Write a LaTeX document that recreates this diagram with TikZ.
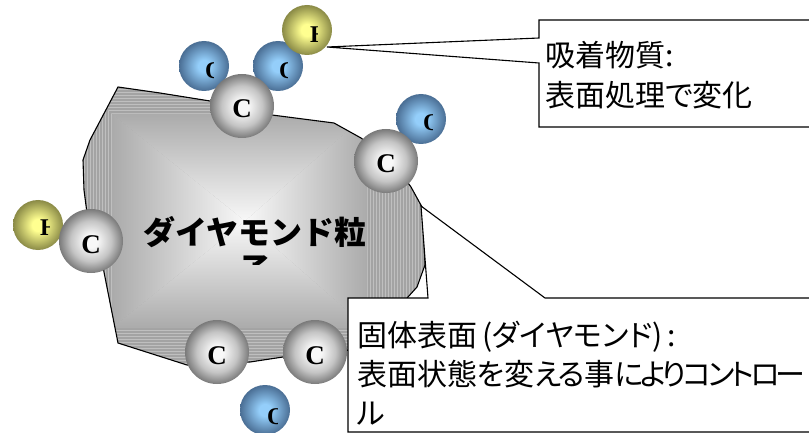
\documentclass[tikz,border=0pt]{standalone}
\usepackage{fontspec}
\setmainfont{Liberation Serif}
\newfontfamily\jpfont[Script=CJK, CharacterWidth=AlternateProportional]{Noto Sans CJK JP}
\newfontfamily\jpwide{Noto Sans CJK JP}
\newcommand\tightkana[1]{{\addfontfeature{LetterSpace=-12}#1}}

\definecolor{grayhi}{HTML}{F8F8F8}
\definecolor{graymid}{HTML}{C4C4C4}
\definecolor{graylo}{HTML}{7A7A7A}
\definecolor{bluehi}{HTML}{94CEFA}
\definecolor{bluelo}{HTML}{4A6E94}
\definecolor{yellowhi}{HTML}{FFFF90}
\definecolor{yellowlo}{HTML}{8A8A46}
\pgfdeclareradialshading{cball}{\pgfpoint{0bp}{0bp}}{color(0bp)=(grayhi); color(5bp)=(grayhi); color(16bp)=(graymid); color(25bp)=(graylo); color(50bp)=(graylo)}
\pgfdeclareradialshading{oball}{\pgfpoint{0bp}{0bp}}{color(0bp)=(bluehi); color(6bp)=(bluehi); color(25bp)=(bluelo); color(50bp)=(bluelo)}
\pgfdeclareradialshading{hball}{\pgfpoint{0bp}{0bp}}{color(0bp)=(yellowhi); color(6bp)=(yellowhi); color(25bp)=(yellowlo); color(50bp)=(yellowlo)}

\begin{document}
\begin{tikzpicture}[x=1pt, y=-1pt,
    catom/.style = {circle, minimum size=64pt, inner sep=0pt, shade, shading=cball, text height=24pt, text depth=0pt, font=\bfseries\fontsize{27}{27}\selectfont},
    oatom/.style = {circle, minimum size=50pt, inner sep=0pt, shade, shading=oball},
    hatom/.style = {circle, minimum size=50pt, inner sep=0pt, shade, shading=hball},
    cutletter/.style = {anchor=west, inner sep=0pt, font=\bfseries\fontsize{24}{24}\selectfont},
    callout/.style = {draw, fill=white, line width=1.1pt},
    note/.style = {anchor=north west, inner sep=0pt, align=left}]
  \useasboundingbox (0,0) rectangle (809,433);
  \clip (0,0) rectangle (809,433);

  % diamond grain
  \path[save path=\grainoutline] (118,87) -- (160,93) -- (210,101) -- (272,115) -- (334,123) -- (361,138)
    -- (395,165) -- (411,187) -- (422,207) -- (424,240) -- (425,265) -- (417,287) -- (408,297)
    -- (380,330) -- (350,350) -- (283,357) -- (250,362) -- (187,365) -- (118,343) -- (103,267)
    -- (87,213) -- (84,190) -- (83,160) -- (90,140) -- cycle;
  \begin{scope}
    \clip[use path=\grainoutline];
    \fill[gray!72] (78,84) rectangle (428,370);
    \foreach \y in {84,87,...,370}
      \draw[gray!50, line width=1pt] (78,\y) -- (428,\y);
    \begin{scope}
      \clip (78,84) -- (112,114) -- (112,328) -- (78,370) -- cycle;
      \fill[gray!72] (78,84) rectangle (112,370);
      \foreach \x in {78,81,...,112}
        \draw[gray!50, line width=1pt] (\x,84) -- (\x,370);
    \end{scope}
    \begin{scope}
      \clip (428,84) -- (367,114) -- (367,328) -- (428,370) -- cycle;
      \fill[gray!72] (367,84) rectangle (428,370);
      \foreach \x in {367,370,...,428}
        \draw[gray!50, line width=1pt] (\x,84) -- (\x,370);
    \end{scope}
    \shade[top color=gray!66, bottom color=grayhi] (112,114) -- (367,114) -- (245,221) -- cycle;
    \shade[left color=gray!66, right color=grayhi] (112,114) -- (112,328) -- (245,221) -- cycle;
    \shade[left color=grayhi, right color=gray!66] (367,114) -- (367,328) -- (245,221) -- cycle;
    \shade[top color=grayhi, bottom color=gray!66] (112,328) -- (367,328) -- (245,221) -- cycle;
  \end{scope}
  \draw[line width=1.1pt, use path=\grainoutline];

  \begin{scope}
    \clip (100,200) rectangle (420,264);
    \node[inner sep=0pt, anchor=north, align=center, font=\jpwide\bfseries\fontsize{32}{37}\selectfont] (grain) at (255,216) {ダイヤモンド粒\\子};
  \end{scope}

  % adsorbed atoms
  \node[oatom] (o1) at (204,66) {};
  \node[oatom] (o2) at (278,66) {};
  \node[oatom] (o3) at (421,119) {};
  \node[oatom] (o4) at (265,410) {};
  \node[hatom] (h1) at (307,30) {};
  \node[hatom] (h2) at (38,225) {};
  \foreach \x/\y/\w/\t [count=\i] in {205/71/8/O, 279/71/8/O, 423/123/9/O, 267/417/10/O, 310/35/7/H, 40/228/9/H} {
    \begin{scope}
      \clip (\x-2,\y-14) rectangle (\x+\w,\y+14);
      \node[cutletter] (cut\i) at (\x,\y) {\t};
    \end{scope}
  }

  % surface carbon
  \node[catom] (c1) at (242,106) {C};
  \node[catom] (c2) at (386,161) {C};
  \node[catom] (c3) at (91,241) {C};
  \node[catom] (c4) at (217,352) {C};
  \node[catom] (c5) at (315,352) {C};

  % callouts
  \coordinate (tiph) at (327,47);
  \coordinate (tips) at (421,206);
  \draw[callout] (539,20) -- (830,20) -- (830,127) -- (539,127) -- (539,63) -- (tiph) -- (539,38) -- cycle;
  \draw[callout] (348,298) -- (428,298) -- (tips) -- (545,298) -- (830,298) -- (830,432) -- (348,432) -- cycle;
  \node[note, font=\jpfont\fontsize{30}{40}\selectfont] (adsorb) at (545,41) {吸着物質:\\表面処理で変化};
  \node[note, font=\jpfont\fontsize{30}{39}\selectfont] (surface) at (357,321)
    {固体表面\,(ダイヤモンド)\,:\\表面状態\tightkana{を}変\tightkana{える}事\tightkana{によりコントロー}\\ル};
\end{tikzpicture}
\end{document}
